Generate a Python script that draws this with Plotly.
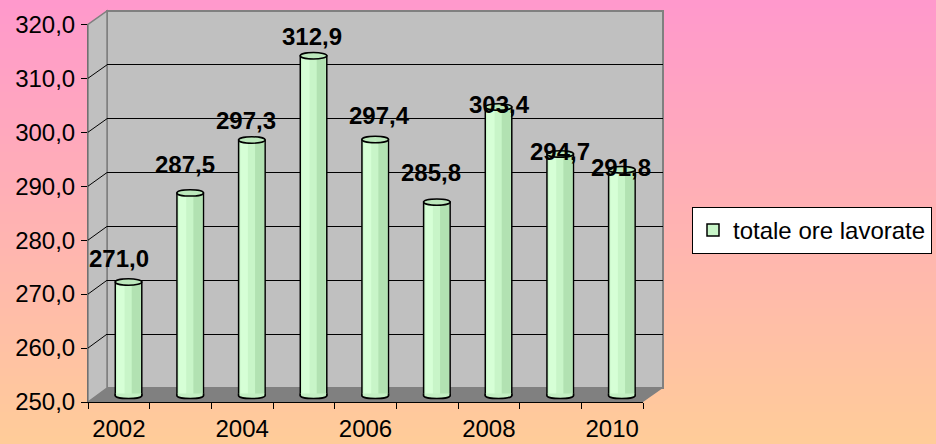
import plotly.graph_objects as go

# ---------------- data ----------------
years = ["2002", "2003", "2004", "2005", "2006", "2007", "2008", "2009", "2010"]
hours = [271.0, 287.5, 297.3, 312.9, 297.4, 285.8, 303.4, 294.7, 291.8]
series_name = "totale ore lavorate"
y_ticks = [250, 260, 270, 280, 290, 300, 310, 320]

# ---------------- style ----------------
label_xshift = [-9.5, -5, -5.5, -2, 4, -6, 1, 0, -0.5]
label_yshift = [23.5, 28, 19, 19, 23.5, 30, 3, 3, 2.5]
FONT = "Arial, Liberation Sans, sans-serif"
FS = 24
W, H = 936, 444
Y_MIN, Y_MAX = y_ticks[0], y_ticks[-1]


def px(x):
    return x / W


def py(y):
    return 1 - y / H


# planes of the pseudo-3D box (pixel geometry of frame)
FRONT = dict(x0=88, x1=643, ytop=24.3, ybot=402)
BACK = dict(x0=107, x1=663, ytop=11, ybot=388)
MID = dict(x0=97.7, x1=652.7, ytop=17.4, ybot=395.4)
scale_mid = (MID["ybot"] - MID["ytop"]) / (Y_MAX - Y_MIN)
MID_LOW = Y_MIN - 2  # room for the rounded bar bottoms
mid_bot_px = MID["ybot"] + (Y_MIN - MID_LOW) * scale_mid

n = len(years)
idx = list(range(n))
bw = 0.43  # bar width in category units

shapes = []
# background gradient pink -> tan
top_c = (255, 153, 204)
bot_c = (255, 204, 153)
nb = 111
for k in range(nb):
    t = k / (nb - 1)
    c = tuple(round(top_c[j] + (bot_c[j] - top_c[j]) * t) for j in range(3))
    shapes.append(dict(type="rect", xref="paper", yref="paper", layer="below",
                       x0=0, x1=1, y0=py(k * H / nb), y1=py((k + 1) * H / nb) - 0.0005,
                       fillcolor="rgb(%d,%d,%d)" % c, line=dict(width=0)))

# back wall
shapes.append(dict(type="rect", xref="paper", yref="paper", layer="below",
                   x0=px(BACK["x0"]), x1=px(BACK["x1"]), y0=py(BACK["ybot"]), y1=py(BACK["ytop"]),
                   fillcolor="#C0C0C0", line=dict(color="#808080", width=2)))
# left wall
shapes.append(dict(type="path", xref="paper", yref="paper", layer="below",
                   path="M %f,%f L %f,%f L %f,%f L %f,%f Z" % (
                       px(FRONT["x0"]), py(FRONT["ybot"]), px(FRONT["x0"]), py(FRONT["ytop"]),
                       px(BACK["x0"]), py(BACK["ytop"]), px(BACK["x0"]), py(BACK["ybot"])),
                   fillcolor="#C0C0C0", line=dict(color="#808080", width=1.5)))
# floor
shapes.append(dict(type="path", xref="paper", yref="paper", layer="below",
                   path="M %f,%f L %f,%f L %f,%f L %f,%f Z" % (
                       px(FRONT["x0"]), py(FRONT["ybot"]), px(FRONT["x1"]), py(FRONT["ybot"]),
                       px(BACK["x1"]), py(BACK["ybot"]), px(BACK["x0"]), py(BACK["ybot"])),
                   fillcolor="#808080", line=dict(width=0)))


def plane_y(plane, v):
    return plane["ybot"] - (v - Y_MIN) / (Y_MAX - Y_MIN) * (plane["ybot"] - plane["ytop"])


# gridlines on the left (side) wall
for v in y_ticks[1:-1]:
    shapes.append(dict(type="line", xref="paper", yref="paper", layer="below",
                       x0=px(FRONT["x0"]), y0=py(plane_y(FRONT, v)),
                       x1=px(BACK["x0"]), y1=py(plane_y(BACK, v)),
                       line=dict(color="#000000", width=1)))

# cylinder ends (bottom arc, top ellipse) on the bar plane
b = 3.2 / scale_mid
d = 4.0 / 3.0 * b
delta = 0.35
for i, v in zip(idx, hours):
    x0, x1 = i - bw / 2, i + bw / 2
    c = Y_MIN
    shapes.append(dict(type="path", xref="x3", yref="y3",
                       path="M %f,%f L %f,%f C %f,%f %f,%f %f,%f L %f,%f" % (
                           x0, c + delta, x0, c, x0, c - d, x1, c - d, x1, c, x1, c + delta),
                       fillcolor="#C4F0C4", line=dict(color="#000000", width=1.5)))
    shapes.append(dict(type="circle", xref="x3", yref="y3",
                       x0=x0, x1=x1, y0=v - b, y1=v + b,
                       fillcolor="#BCE8BC", line=dict(color="#000000", width=1.5)))

fig = go.Figure()
# empty traces so that the wall and front-axis subplots get drawn
fig.add_trace(go.Scatter(x=[None], y=[None], xaxis="x", yaxis="y", showlegend=False,
                         hoverinfo="skip", mode="markers"))
fig.add_trace(go.Scatter(x=[None], y=[None], xaxis="x2", yaxis="y2", showlegend=False,
                         hoverinfo="skip", mode="markers"))
fig.add_trace(go.Bar(x=idx, y=[h - Y_MIN for h in hours], base=Y_MIN, width=bw,
                     name=series_name, xaxis="x3", yaxis="y3",
                     marker=dict(color="#C8F5C8", line=dict(color="#000000", width=1.5)),
                     hoverinfo="skip"))
fig.add_trace(go.Bar(x=idx, y=[h - Y_MIN for h in hours], base=Y_MIN, width=bw * 0.28,
                     offset=-bw / 2 + bw * 0.07, xaxis="x3", yaxis="y3", showlegend=False,
                     marker=dict(color="#D6FFD6", line=dict(width=0)), hoverinfo="skip"))
fig.add_trace(go.Bar(x=idx, y=[h - Y_MIN for h in hours], base=Y_MIN, width=bw * 0.34,
                     offset=-bw / 2 + bw * 0.62, xaxis="x3", yaxis="y3", showlegend=False,
                     marker=dict(color="#B2E2B2", line=dict(width=0)), hoverinfo="skip"))

annotations = []
for i, v in enumerate(hours):
    annotations.append(dict(x=i, y=v, xref="x3", yref="y3",
                            text=("%.1f" % v).replace(".", ","), showarrow=False,
                            xanchor="center", yanchor="middle",
                            xshift=label_xshift[i], yshift=label_yshift[i],
                            font=dict(family=FONT, size=FS, color="#000000", weight="bold")))

fig.update_layout(
    template="none",
    width=W, height=H, autosize=False,
    margin=dict(l=0, r=0, t=0, b=0, pad=0, autoexpand=False),
    paper_bgcolor="#FFB2B2", plot_bgcolor="rgba(0,0,0,0)",
    separators=",.",
    barmode="overlay",
    font=dict(family=FONT, size=FS, color="#000000"),
    shapes=shapes, annotations=annotations,
    showlegend=True,
    legend=dict(x=px(692), y=py(207), xanchor="left", yanchor="top",
                bgcolor="#FFFFFF", bordercolor="#000000", borderwidth=1,
                font=dict(family=FONT, size=FS, color="#000000")),
    # back wall plane (gridlines)
    xaxis=dict(domain=[px(BACK["x0"]), px(BACK["x1"])], range=[0, 1], anchor="y",
               showgrid=False, zeroline=False, showticklabels=False, ticks="", showline=False,
               automargin=False),
    yaxis=dict(domain=[py(BACK["ybot"]), py(BACK["ytop"])], range=[Y_MIN, Y_MAX], anchor="x",
               tickmode="array", tickvals=y_ticks[1:-1], showgrid=True, gridcolor="#000000",
               gridwidth=1, zeroline=False, showticklabels=False, ticks="", showline=False,
               automargin=False),
    # front plane (visible axes)
    xaxis2=dict(domain=[px(FRONT["x0"]), px(FRONT["x1"])], range=[-0.5, n - 0.5], anchor="y2",
                tickmode="array", tickvals=idx[::2], ticktext=years[::2], ticks="",
                showline=True, linecolor="#000000", linewidth=1, showgrid=False, zeroline=False,
                ticklabelstandoff=5, automargin=False,
                minor=dict(tickmode="array", tickvals=[k - 0.5 for k in range(n + 1)],
                           ticks="outside", ticklen=6, tickcolor="#000000", tickwidth=1,
                           showgrid=False),
                tickfont=dict(family=FONT, size=FS, color="#000000")),
    yaxis2=dict(domain=[py(FRONT["ybot"]), py(FRONT["ytop"])], range=[Y_MIN, Y_MAX], anchor="x2",
                tickmode="array", tickvals=y_ticks, tickformat=".1f",
                ticks="outside", ticklen=6, tickcolor="#000000", tickwidth=1,
                showline=True, linecolor="#707070", linewidth=1, showgrid=False, zeroline=False,
                ticklabelstandoff=1, automargin=False,
                tickfont=dict(family=FONT, size=FS, color="#000000")),
    # bar plane (middle depth)
    xaxis3=dict(domain=[px(MID["x0"]), px(MID["x1"])], range=[-0.5, n - 0.5], anchor="y3",
                visible=False, automargin=False),
    yaxis3=dict(domain=[py(mid_bot_px), py(MID["ytop"])], range=[MID_LOW, Y_MAX], anchor="x3",
                visible=False, automargin=False),
)

fig.write_html("out.html", config={"displayModeBar": False},
               post_script="document.body.style.margin='0';")
